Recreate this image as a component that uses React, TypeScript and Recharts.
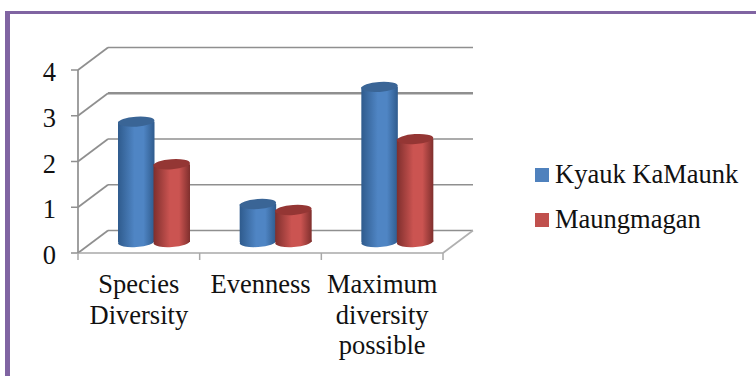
import { Bar, BarChart, CartesianGrid, Legend, XAxis, YAxis } from "recharts";

const categories = ["Species Diversity", "Evenness", "Maximum diversity possible"];
const kyaukKaMaunk = [2.63, 0.83, 3.39];
const maungmagan = [1.7, 0.7, 2.25];
const yTicks = [0, 1, 2, 3, 4];

const data = categories.map((name, i) => ({
  name,
  kyauk: kyaukKaMaunk[i],
  maung: maungmagan[i],
}));

const FONT = '"Liberation Serif", "Times New Roman", serif';
const TEXT = "#111";
const GRID = "#8f8f8f";
const FLOOR = "#a8a8a8";

const PLOT_WIDTH = 365;
const BAND = PLOT_WIDTH / categories.length;

// Depth of the fake 3D box: back wall offset, bars stand half way in
const WALL_DX = 30;
const WALL_DY = 22.5;
const BAR_DX = 15;
const BAR_DY = 11;

function WallLine({ x1, x2, y1, index }: any) {
  const value = yTicks[index];
  const backY = y1 - WALL_DY;
  return (
    <g fill="none" stroke={GRID} strokeWidth={1.7}>
      <line x1={x1} y1={y1} x2={x1 + WALL_DX} y2={backY} />
      {/* value 3 prints heavier along the back wall */}
      <line x1={x1 + WALL_DX} y1={backY} x2={x2 + WALL_DX} y2={backY} strokeWidth={value === 3 ? 2.4 : 1.7} />
      {value === 0 && <line x1={x2} y1={y1} x2={x2 + WALL_DX} y2={backY} stroke="#b0b0b0" />}
    </g>
  );
}

function Cylinder({ x, y, width, height, payload, gradient, top }: any) {
  const cx = x + width / 2 + BAR_DX;
  const rx = width / 2;
  const yTop = y - BAR_DY;
  const yBottom = y + height - BAR_DY;
  return (
    <g data-name={payload?.name}>
      <ellipse cx={cx} cy={yBottom} rx={rx} ry={5} fill={`url(#${gradient})`} transform={`rotate(-4 ${cx} ${yBottom})`} />
      <rect x={cx - rx} y={yTop} width={width} height={yBottom - yTop} fill={`url(#${gradient})`} />
      <ellipse cx={cx} cy={yTop} rx={rx} ry={5} fill={top} transform={`rotate(-4 ${cx} ${yTop})`} />
    </g>
  );
}

// Tick marks sit on the band edges, labels on the band centres
function CategoryTick({ x, y, payload, index }: any) {
  const words: string[] = payload.value.split(" ");
  const tickTop = y - 2;
  const left = x - BAND / 2;
  const right = x + BAND / 2;
  return (
    <g>
      <line x1={left} x2={left} y1={tickTop} y2={tickTop + 7} stroke={FLOOR} strokeWidth={1.5} />
      {index === categories.length - 1 && (
        <line x1={right} x2={right} y1={tickTop} y2={tickTop + 7} stroke={FLOOR} strokeWidth={1.5} />
      )}
      <text x={x} y={y + 38} textAnchor="middle" fontFamily={FONT} fontSize={26.5} fill={TEXT}>
        {words.map((w, i) => (
          <tspan key={w} x={x} dy={i === 0 ? 0 : 30.5}>
            {w}
          </tspan>
        ))}
      </text>
    </g>
  );
}

function ValueTick({ x, y, payload }: any) {
  return (
    <text x={x} y={y + 11} textAnchor="end" fontFamily={FONT} fontSize={26.5} fill={TEXT}>
      {payload.value}
    </text>
  );
}

function LegendList({ payload }: any) {
  return (
    <div style={{ fontFamily: FONT, fontSize: 26.5, color: TEXT }}>
      {payload?.map((item: any) => (
        <div key={item.value} style={{ display: "flex", alignItems: "center", height: 45 }}>
          <span style={{ width: 14, height: 14, background: item.color, marginRight: 6 }} />
          <span style={{ whiteSpace: "nowrap" }}>{item.value}</span>
        </div>
      ))}
    </div>
  );
}

function shade(id: string, edge: string, mid: string) {
  return (
    <linearGradient id={id} x1="0" y1="0" x2="1" y2="0">
      <stop offset="0%" stopColor={edge} />
      <stop offset="45%" stopColor={mid} />
      <stop offset="70%" stopColor={mid} />
      <stop offset="100%" stopColor={edge} />
    </linearGradient>
  );
}

export default function App() {
  return (
    <div style={{ position: "absolute", left: 0, top: 0, width: 756, height: 376, background: "#fff", overflow: "hidden" }}>
      <div
        style={{
          position: "absolute",
          left: 5,
          top: 11,
          right: 0,
          bottom: 0,
          borderLeft: "5px solid #8064a2",
          borderTop: "3px solid #8064a2",
        }}
      />
      <BarChart
        width={756}
        height={376}
        data={data}
        margin={{ top: 70, right: 313, bottom: 23, left: 18 }}
        barSize={36.5}
        barGap={-1}
        style={{ position: "absolute", left: 0, top: 0 }}
      >
        <defs>
          {shade("blueSide", "#2f5b8d", "#4f85c4")}
          {shade("redSide", "#7f2f2d", "#cb5451")}
        </defs>
        <CartesianGrid vertical={false} horizontal={(p: any) => <WallLine key={p.index} {...p} />} />
        <XAxis
          dataKey="name"
          height={100}
          interval={0}
          tick={CategoryTick}
          axisLine={{ stroke: FLOOR, strokeWidth: 1.7 }}
          tickLine={false}
          tickSize={0}
        />
        <YAxis
          width={60}
          domain={[0, 4]}
          ticks={yTicks}
          interval={0}
          tick={ValueTick}
          axisLine={{ stroke: GRID, strokeWidth: 1.7 }}
          tickLine={{ stroke: GRID, strokeWidth: 1.5 }}
          tickSize={7}
          tickMargin={15}
        />
        <Legend
          layout="vertical"
          content={LegendList}
          wrapperStyle={{ position: "absolute", left: 535, top: 152, width: 215, height: 0, bottom: "auto" }}
        />
        <Bar
          dataKey="kyauk"
          name="Kyauk KaMaunk"
          fill="#4f81bd"
          isAnimationActive={false}
          shape={(p: any) => <Cylinder {...p} gradient="blueSide" top="#3a6596" />}
        />
        <Bar
          dataKey="maung"
          name="Maungmagan"
          fill="#c0504d"
          isAnimationActive={false}
          shape={(p: any) => <Cylinder {...p} gradient="redSide" top="#943634" />}
        />
      </BarChart>
    </div>
  );
}
